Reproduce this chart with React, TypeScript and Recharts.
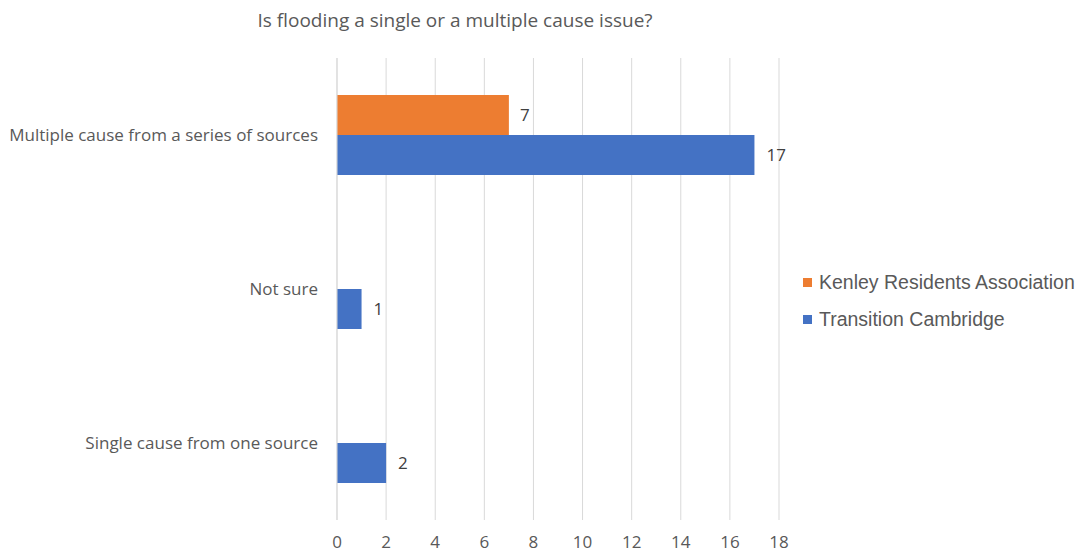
import React from 'react';
import {
  BarChart,
  Bar,
  XAxis,
  YAxis,
  CartesianGrid,
  Legend,
  LabelList,
} from 'recharts';

const categories = [
  'Multiple cause from a series of sources',
  'Not sure',
  'Single cause from one source',
];
const kenleyValues: (number | null)[] = [7, null, null];
const cambridgeValues = [17, 1, 2];
const xTicks = [0, 2, 4, 6, 8, 10, 12, 14, 16, 18];

const KENLEY_COLOR = '#ED7D31';
const CAMBRIDGE_COLOR = '#4472C4';
const TEXT_COLOR = '#595959';
const FONT = '"Open Sans", sans-serif';

const data = categories.map((name, i) => ({
  name,
  kenley: kenleyValues[i],
  cambridge: cambridgeValues[i],
}));

const legendItems = [
  { label: 'Kenley Residents Association', color: KENLEY_COLOR },
  { label: 'Transition Cambridge', color: CAMBRIDGE_COLOR },
];

function LegendContent() {
  return (
    <div style={{ fontFamily: '"Liberation Sans", Arial, sans-serif', fontSize: 19.5, color: TEXT_COLOR }}>
      {legendItems.map((item) => (
        <div key={item.label} style={{ display: 'flex', alignItems: 'center', height: 37, whiteSpace: 'nowrap' }}>
          <span style={{ width: 9, height: 9, background: item.color, marginRight: 7, display: 'inline-block', flex: 'none' }} />
          <span>{item.label}</span>
        </div>
      ))}
    </div>
  );
}

export default function App() {
  return (
    <div style={{ position: 'absolute', left: 0, top: 0, width: 1078, height: 553, background: '#fff' }}>
      <div
        style={{
          position: 'absolute',
          left: 0,
          width: 910,
          top: 7,
          textAlign: 'center',
          fontFamily: FONT,
          fontSize: 19,
          color: TEXT_COLOR,
        }}
      >
        Is flooding a single or a multiple cause issue?
      </div>
      <BarChart
        width={1078}
        height={553}
        data={data}
        layout="vertical"
        margin={{ top: 58, right: 299, bottom: 0, left: 0 }}
        barSize={40}
        barGap={0}
      >
        <CartesianGrid horizontal={false} stroke="#d9d9d9" />
        <XAxis
          type="number"
          domain={[0, 18]}
          ticks={xTicks}
          interval={0}
          axisLine={false}
          tickLine={false}
          tickSize={0}
          tickMargin={16}
          height={33}
          tick={{ fill: TEXT_COLOR, fontSize: 17, fontFamily: FONT }}
        />
        <YAxis
          type="category"
          dataKey="name"
          width={337}
          axisLine={{ stroke: '#d9d9d9' }}
          tickLine={false}
          tickSize={0}
          tickMargin={19}
          tick={{ fill: TEXT_COLOR, fontSize: 17, fontFamily: FONT }}
        />
        <Legend
          layout="vertical"
          align="center"
          verticalAlign="middle"
          content={<LegendContent />}
          wrapperStyle={{ left: 803, top: 264, width: 275 }}
        />
        <Bar dataKey="kenley" name="Kenley Residents Association" fill={KENLEY_COLOR} isAnimationActive={false}>
          <LabelList dataKey="kenley" position="right" offset={11} fill="#404040" fontSize={17} fontFamily={FONT} />
        </Bar>
        <Bar dataKey="cambridge" name="Transition Cambridge" fill={CAMBRIDGE_COLOR} isAnimationActive={false}>
          <LabelList dataKey="cambridge" position="right" offset={12} fill="#404040" fontSize={17} fontFamily={FONT} />
        </Bar>
      </BarChart>
    </div>
  );
}
